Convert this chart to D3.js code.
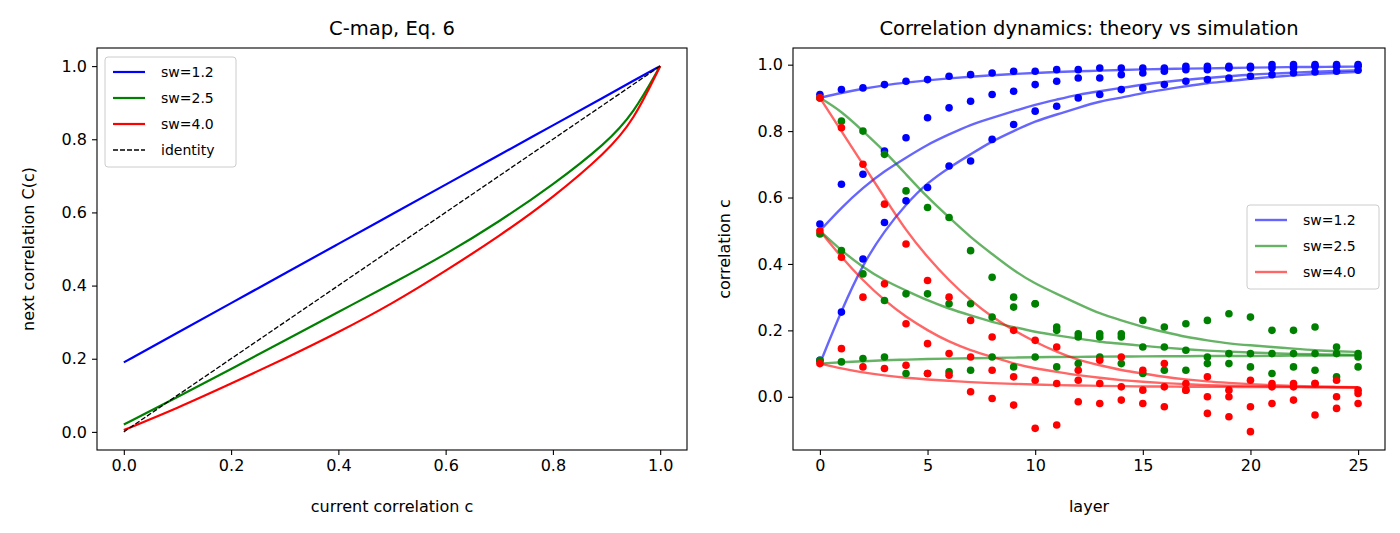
<!DOCTYPE html>
<html><head><meta charset="utf-8">
<script src="https://cdn.jsdelivr.net/npm/d3@7"></script>
<style>body{margin:0;background:#fff;font-family:"DejaVu Sans",sans-serif;}</style>
</head><body>
<script>
// left panel: C-map
var cGrid = [0,0.1,0.2,0.3,0.4,0.5,0.6,0.7,0.8,0.9,0.95,1.0];
var mapBlue  = [0.19,0.271,0.352,0.433,0.514,0.595,0.676,0.757,0.838,0.919,0.96,1.0];
var mapGreen = [0.02,0.095,0.172,0.25,0.328,0.405,0.485,0.575,0.675,0.79,0.87,1.0];
var mapRed   = [0.005,0.065,0.132,0.2,0.272,0.35,0.44,0.535,0.64,0.765,0.85,1.0];
var swLabels = ["sw=1.2","sw=2.5","sw=4.0"];
var swColors = ["#0000ff","#008000","#ff0000"];

// right panel: theory curves (layers 0..25), starts 0.9, 0.5, 0.1
var theoryBlue = [
 [0.9,0.915,0.928,0.938,0.946,0.953,0.959,0.964,0.968,0.972,0.975,0.978,0.98,0.982,0.984,0.986,0.987,0.988,0.989,0.99,0.991,0.992,0.993,0.993,0.994,0.994],
 [0.5,0.57,0.63,0.68,0.72,0.76,0.79,0.82,0.84,0.86,0.88,0.895,0.91,0.92,0.93,0.94,0.948,0.955,0.96,0.965,0.97,0.973,0.976,0.979,0.981,0.983],
 [0.1,0.26,0.4,0.5,0.58,0.645,0.69,0.73,0.77,0.8,0.83,0.85,0.87,0.89,0.9,0.915,0.925,0.935,0.945,0.95,0.958,0.963,0.968,0.972,0.975,0.978]];
var theoryGreen = [
 [0.9,0.86,0.8,0.74,0.67,0.6,0.54,0.48,0.43,0.38,0.34,0.31,0.28,0.25,0.23,0.21,0.195,0.18,0.17,0.16,0.155,0.15,0.145,0.14,0.137,0.135],
 [0.5,0.44,0.39,0.35,0.32,0.29,0.265,0.245,0.225,0.21,0.195,0.185,0.175,0.165,0.16,0.153,0.148,0.143,0.139,0.136,0.133,0.131,0.129,0.128,0.127,0.126],
 [0.1,0.104,0.107,0.11,0.112,0.114,0.115,0.116,0.117,0.118,0.119,0.12,0.12,0.121,0.121,0.122,0.122,0.122,0.123,0.123,0.123,0.123,0.124,0.124,0.124,0.124]];
var theoryRed = [
 [0.9,0.8,0.7,0.6,0.5,0.42,0.35,0.29,0.24,0.2,0.165,0.135,0.11,0.095,0.08,0.07,0.06,0.052,0.046,0.042,0.038,0.035,0.033,0.031,0.03,0.029],
 [0.5,0.42,0.35,0.29,0.24,0.2,0.165,0.14,0.12,0.1,0.085,0.075,0.065,0.057,0.05,0.045,0.041,0.038,0.035,0.033,0.032,0.031,0.03,0.029,0.029,0.028],
 [0.1,0.085,0.073,0.064,0.057,0.052,0.048,0.044,0.041,0.039,0.037,0.035,0.034,0.033,0.032,0.031,0.031,0.03,0.03,0.03,0.029,0.029,0.029,0.029,0.028,0.028]];

// simulation points
var simBlue = [
 [0.91,0.925,0.93,0.94,0.95,0.955,0.965,0.97,0.975,0.98,0.98,0.985,0.985,0.99,0.99,0.99,0.99,0.995,0.995,0.995,0.995,1.0,1.0,1.0,1.0,1.0],
 [0.52,0.64,0.67,0.74,0.78,0.84,0.87,0.89,0.91,0.92,0.94,0.95,0.96,0.96,0.97,0.975,0.98,0.985,0.985,0.99,0.99,0.99,0.99,0.995,0.995,0.995],
 [0.11,0.255,0.415,0.525,0.59,0.63,0.695,0.71,0.775,0.82,0.86,0.875,0.9,0.91,0.925,0.93,0.94,0.95,0.955,0.96,0.965,0.97,0.975,0.978,0.98,0.983]];
var simGreen = [
 [0.9,0.83,0.8,0.73,0.62,0.57,0.54,0.44,0.36,0.3,0.28,0.21,0.19,0.18,0.18,0.23,0.21,0.22,0.23,0.25,0.24,0.2,0.2,0.21,0.13,0.13],
 [0.49,0.44,0.37,0.29,0.31,0.31,0.28,0.28,0.24,0.27,0.28,0.2,0.18,0.19,0.19,0.15,0.15,0.14,0.12,0.13,0.13,0.13,0.13,0.13,0.15,0.12],
 [0.11,0.105,0.115,0.12,0.07,0.07,0.075,0.08,0.12,0.09,0.12,0.09,0.1,0.12,0.1,0.07,0.08,0.08,0.1,0.1,0.09,0.07,0.09,0.08,0.06,0.09]];
var simRed = [
 [0.9,0.81,0.7,0.58,0.46,0.35,0.3,0.23,0.18,0.2,0.17,0.15,0.08,0.11,0.12,0.08,0.1,0.04,0.06,0.02,0.05,0.03,0.03,0.04,0.05,0.02],
 [0.5,0.42,0.3,0.34,0.22,0.16,0.13,0.12,0.08,0.06,0.05,0.04,0.05,0.04,0.03,0.02,0.03,0.02,0.0,0.0,-0.03,0.04,0.04,0.04,0.0,-0.02],
 [0.1,0.145,0.09,0.085,0.095,0.07,0.065,0.015,-0.005,-0.025,-0.095,-0.085,-0.015,-0.02,-0.01,-0.02,-0.03,0.02,-0.05,-0.06,-0.105,-0.02,-0.01,-0.055,-0.035,0.01]];

var svg = d3.select("body").append("svg").attr("width",1400).attr("height",533);

function frame(x0,x1,y0,y1,xs,ys,xt,yt,xfmt,title,xlab,ylab){
  var g = svg.append("g");
  g.append("g").attr("transform","translate(0,"+y1+")")
    .call(d3.axisBottom(xs).tickValues(xt).tickFormat(xfmt).tickSizeOuter(0).tickSize(5).tickPadding(5));
  g.append("g").attr("transform","translate("+x0+",0)")
    .call(d3.axisLeft(ys).tickValues(yt).tickFormat(d3.format(".1f")).tickSizeOuter(0).tickSize(5).tickPadding(5));
  g.selectAll(".domain").remove();
  g.selectAll(".tick line").attr("stroke-width",1.1);
  g.selectAll(".tick text").attr("font-size",16).attr("font-family","DejaVu Sans").attr("fill","#000");
  g.append("rect").attr("x",x0).attr("y",y0).attr("width",x1-x0).attr("height",y1-y0)
    .attr("fill","none").attr("stroke","#000").attr("stroke-width",1.1);
  svg.append("text").attr("x",(x0+x1)/2).attr("y",y0-13).attr("text-anchor","middle").attr("font-size",19.5).text(title);
  svg.append("text").attr("x",(x0+x1)/2).attr("y",y1+62).attr("text-anchor","middle").attr("font-size",16).text(xlab);
  svg.append("text").attr("transform","translate("+(x0-63)+","+((y0+y1)/2)+") rotate(-90)")
    .attr("text-anchor","middle").attr("font-size",16).text(ylab);
}

function legend(x,y,w,items){
  var lg = svg.append("g").attr("transform","translate("+x+","+y+")");
  lg.append("rect").attr("width",w).attr("height",items.length*26+6).attr("rx",3)
    .attr("fill","#fff").attr("fill-opacity",0.8).attr("stroke","#ccc");
  items.forEach(function(it,i){
    var yy = 15+i*26;
    lg.append("line").attr("x1",8).attr("x2",40).attr("y1",yy).attr("y2",yy)
      .attr("stroke",it.c).attr("stroke-width",it.w).attr("stroke-opacity",it.o||1)
      .attr("stroke-dasharray",it.d||null);
    lg.append("text").attr("x",56).attr("y",yy+5).attr("font-size",14).text(it.t);
  });
}

// ---- left ----
var lx = d3.scaleLinear().domain([-0.05,1.05]).range([97,687]);
var ly = d3.scaleLinear().domain([-0.0495,1.0495]).range([450,48]);
frame(97,687,48,450,lx,ly,[0,0.2,0.4,0.6,0.8,1.0],[0,0.2,0.4,0.6,0.8,1.0],d3.format(".1f"),
  "C-map, Eq. 6","current correlation c","next correlation C(c)");
var lline = d3.line().x(function(d){return lx(d[0]);}).y(function(d){return ly(d[1]);}).curve(d3.curveBasis);
[mapBlue,mapGreen,mapRed].forEach(function(arr,i){
  svg.append("path").attr("d",lline(cGrid.map(function(c,j){return [c,arr[j]];})))
    .attr("fill","none").attr("stroke",swColors[i]).attr("stroke-width",2.2);
});
svg.append("path").attr("d",lline([[0,0],[1,1]])).attr("fill","none").attr("stroke","#000")
  .attr("stroke-width",1.3).attr("stroke-dasharray","5,2");
legend(105,57,131,[
  {t:swLabels[0],c:swColors[0],w:2.2},{t:swLabels[1],c:swColors[1],w:2.2},
  {t:swLabels[2],c:swColors[2],w:2.2},{t:"identity",c:"#000",w:1.3,d:"5,2"}]);

// ---- right ----
var layers = d3.range(26);
var rx = d3.scaleLinear().domain([-1.25,26.25]).range([793,1385]);
var ry = d3.scaleLinear().domain([-0.1602,1.0502]).range([450,48]);
frame(793,1385,48,450,rx,ry,[0,5,10,15,20,25],[0,0.2,0.4,0.6,0.8,1.0],d3.format("d"),
  "Correlation dynamics: theory vs simulation","layer","correlation c");
var rline = d3.line().x(function(d,i){return rx(layers[i]);}).y(function(d){return ry(d);}).curve(d3.curveBasis);
[theoryBlue,theoryGreen,theoryRed].forEach(function(set,i){
  set.forEach(function(arr){
    svg.append("path").attr("d",rline(arr)).attr("fill","none")
      .attr("stroke",swColors[i]).attr("stroke-width",2.4).attr("stroke-opacity",0.6);
  });
});
[simBlue,simGreen,simRed].forEach(function(set,i){
  set.forEach(function(arr){
    svg.append("g").selectAll("circle").data(arr).enter().append("circle")
      .attr("cx",function(d,j){return rx(layers[j]);}).attr("cy",function(d){return ry(d);})
      .attr("r",3.8).attr("fill",swColors[i]);
  });
});
legend(1247,205,132,[
  {t:swLabels[0],c:swColors[0],w:2.4,o:0.6},{t:swLabels[1],c:swColors[1],w:2.4,o:0.6},
  {t:swLabels[2],c:swColors[2],w:2.4,o:0.6}]);
</script>
</body></html>
